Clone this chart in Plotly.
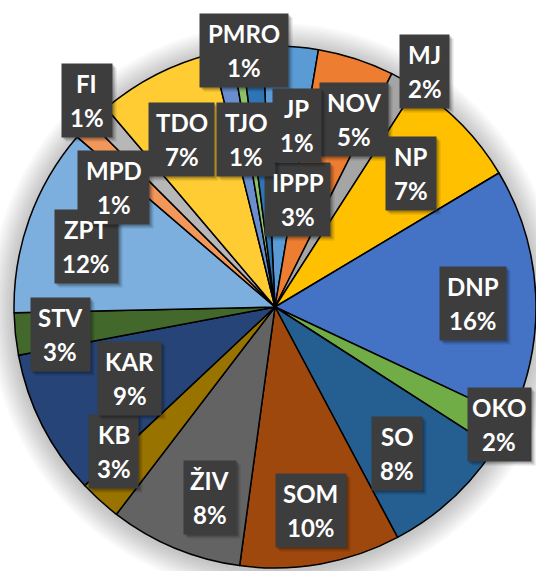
import math
import plotly.graph_objects as go

W, H = 536, 571

# Party results (slices are drawn clockwise, starting just left of 12 o'clock)
parties = ["IPPP", "NOV", "MJ", "NP", "DNP", "OKO", "SO", "SOM", "ŽIV", "KB",
           "KAR", "STV", "ZPT", "MPD", "FI", "TDO", "TJO", "PMRO", "JP"]
votes = [34, 47, 17, 73, 155, 21, 81, 99, 82, 26,
         90, 26, 116, 12, 13, 73, 12, 6, 13]
colors = ["#5B9BD5", "#ED7D31", "#A5A5A5", "#FFC000", "#4472C4", "#70AD47",
          "#255E91", "#9E480E", "#636363", "#997300", "#264478", "#43682B",
          "#7CAFDD", "#F1975A", "#B7B7B7", "#FFCD33", "#698ED0", "#8CC168",
          "#2E75B6"]

# Label box placement: distance from centre (fraction of radius) and
# angular nudge (degrees) away from each slice's mid-angle
label_radius = [0.42, 0.78, 1.07, 0.73, 0.76, 0.97, 0.73, 0.79, 0.77, 0.83,
                0.62, 0.83, 0.76, 0.77, 1.07, 0.735, 0.65, 0.99, 0.70]
label_nudge = [8.6, 4.6, 2.8, -0.5, 1.9, -1.3, 2.8, 0.1, -3.6, 6.0,
               0.6, -1.4, -2.0, -6.2, 0.3, -2.0, 2.0, 1.7, 11.9]
# Label box widths in pixels (box height is shared)
box_width = [65, 68, 49, 50, 66, 63, 50, 70, 52, 49,
             63, 59, 63, 71, 50, 65, 58, 88, 48]
BOX_H = 73
LINE_OFFSET = 17

ROTATION = -2.7
CX, CY, R = 275, 307, 261  # pie centre / radius in pixels

fig = go.Figure()
fig.add_trace(go.Pie(
    labels=parties,
    values=votes,
    sort=False,
    direction="clockwise",
    rotation=ROTATION,
    marker=dict(colors=colors, line=dict(color="black", width=1.5)),
    textinfo="none",
    hoverinfo="label+percent",
    showlegend=False,
    domain=dict(x=[(CX - R) / W, (CX + R) / W],
                y=[(H - CY - R) / H, (H - CY + R) / H]),
))

# Soft shadow around the pie
shapes = []
for i in range(10, 0, -1):
    rr = R + 2.5 * i
    shapes.append(dict(
        type="circle", xref="paper", yref="paper", layer="below",
        x0=(CX - rr) / W, x1=(CX + rr) / W,
        y0=(H - CY - 2 - rr) / H, y1=(H - CY - 2 + rr) / H,
        line=dict(width=0), fillcolor="rgba(0,0,0,0.022)",
    ))

# Data labels: name and share, on dark boxes with a soft drop shadow
total = sum(votes)
label_font = dict(family="Lato", size=24, color="white", weight="bold")
boxes, texts = [], []
cum = 0.0
for name, v, rf, nudge, bw in zip(parties, votes, label_radius, label_nudge, box_width):
    mid = ROTATION + (cum + v / 2) / total * 360.0
    cum += v
    ang = math.radians(mid + nudge)
    px = CX + rf * R * math.sin(ang)
    py = CY - rf * R * math.cos(ang)
    anchor = dict(x=px / W, y=1 - py / H, xref="paper", yref="paper",
                  showarrow=False, xanchor="center", yanchor="middle")
    for sh, op in ((4, 0.12), (2, 0.22)):
        boxes.append(dict(anchor, text=" ", width=bw, height=BOX_H, borderpad=0,
                          xshift=sh, yshift=-sh, bgcolor=f"rgba(0,0,0,{op})"))
    boxes.append(dict(anchor, text=" ", width=bw, height=BOX_H, borderpad=0,
                      bgcolor="#3d3d3d"))
    texts.append(dict(anchor, text=name, yshift=LINE_OFFSET, font=label_font))
    texts.append(dict(anchor, text=f"{100 * v / total:.0f}%", yshift=-LINE_OFFSET,
                      font=label_font))

fig.update_layout(
    width=W, height=H,
    margin=dict(l=0, r=0, t=0, b=0),
    paper_bgcolor="white", plot_bgcolor="white",
    shapes=shapes, annotations=boxes + texts,
)

fig.write_html("out.html")
